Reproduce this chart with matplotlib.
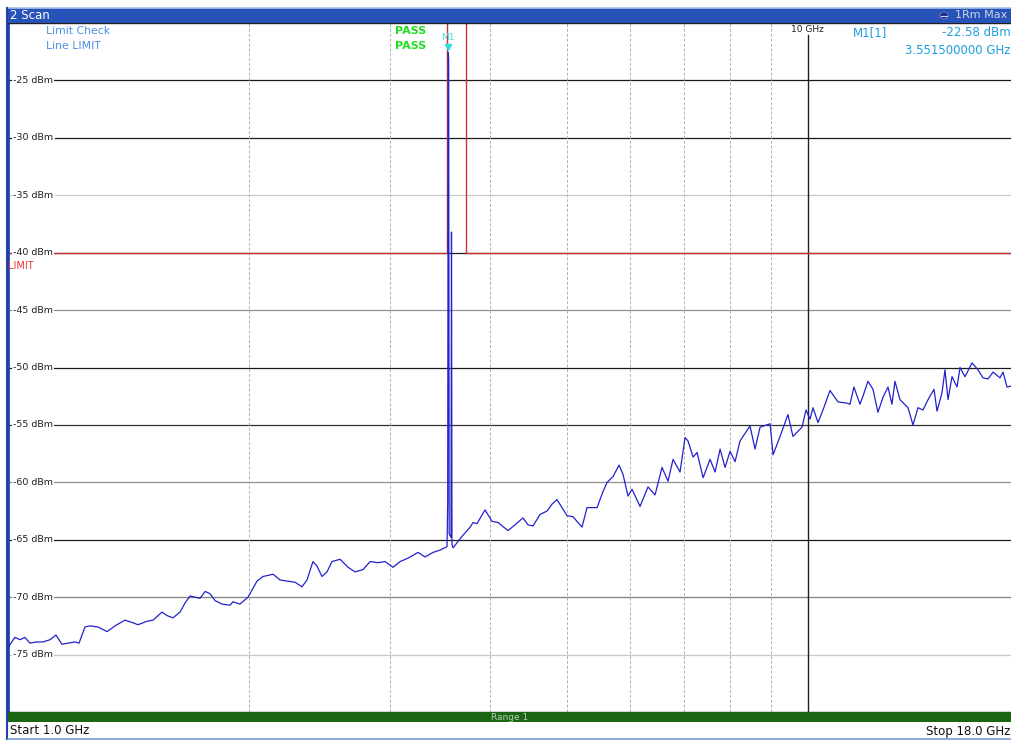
#!/usr/bin/env python3
"""Spectrum analyzer scan 1-18 GHz with limit line and marker M1."""

import matplotlib
matplotlib.use("Agg")
import matplotlib.pyplot as plt
import matplotlib.transforms as mtransforms
from matplotlib.patches import Rectangle, Ellipse
from matplotlib.lines import Line2D

plt.rcParams['font.family'] = ['DejaVu Sans']

# Trace (max hold), frequency in GHz and level in dBm
freq_ghz = [
    1.000, 1.020, 1.035, 1.050, 1.065, 1.087, 1.106, 1.129, 1.148, 1.168,
    1.189, 1.213, 1.227, 1.248, 1.266, 1.296, 1.330, 1.361, 1.400, 1.429,
    1.454, 1.492, 1.518, 1.558, 1.580, 1.608, 1.641, 1.665, 1.689, 1.738,
    1.764, 1.789, 1.815, 1.852, 1.895, 1.911, 1.950, 1.996, 2.048, 2.084,
    2.145, 2.188, 2.233, 2.285, 2.331, 2.365, 2.406, 2.434, 2.469, 2.505,
    2.541, 2.601, 2.662, 2.716, 2.779, 2.836, 2.902, 2.961, 3.030, 3.092,
    3.164, 3.256, 3.322, 3.400, 3.469, 3.539,
    3.546, 3.5515, 3.556, 3.561, 3.580, 3.585, 3.590, 3.601,
    3.696, 3.782, 3.815, 3.858, 3.948, 4.029, 4.099, 4.218, 4.304, 4.404,
    4.468, 4.533, 4.625, 4.720, 4.788, 4.857, 4.928, 4.999, 5.086, 5.220,
    5.296, 5.373, 5.451, 5.546, 5.610, 5.708, 5.807, 5.874, 5.959, 6.028,
    6.169, 6.312, 6.441, 6.572, 6.687, 6.784, 6.922, 7.022, 7.083, 7.187,
    7.270, 7.397, 7.547, 7.657, 7.768, 7.880, 7.994, 8.110, 8.227, 8.298,
    8.467, 8.590, 8.715, 8.970, 9.048, 9.232, 9.443, 9.581, 9.834, 9.948,
    10.063, 10.150, 10.297, 10.446, 10.659, 10.907, 11.193, 11.290, 11.420, 11.619,
    11.720, 11.890, 12.063, 12.237, 12.415, 12.595, 12.741, 12.851, 13.038, 13.342,
    13.536, 13.732, 13.932, 14.134, 14.380, 14.505, 14.715, 14.842, 14.971, 15.145,
    15.365, 15.498, 15.722, 16.042, 16.322, 16.559, 16.799, 17.043, 17.389, 17.540,
    17.744, 18.000,
]
level_dbm = [
    -74.4, -73.5, -73.7, -73.5, -74.0, -73.9, -73.9, -73.7, -73.3, -74.1,
    -74.0, -73.9, -74.0, -72.6, -72.5, -72.6, -73.0, -72.5, -72.0, -72.2,
    -72.4, -72.1, -72.0, -71.3, -71.6, -71.8, -71.3, -70.5, -69.9, -70.1,
    -69.5, -69.7, -70.3, -70.6, -70.7, -70.4, -70.6, -70.0, -68.6, -68.2,
    -68.0, -68.5, -68.6, -68.7, -69.1, -68.5, -66.9, -67.3, -68.2, -67.8,
    -66.9, -66.7, -67.4, -67.8, -67.6, -66.9, -67.0, -66.9, -67.4, -66.9,
    -66.6, -66.1, -66.5, -66.1, -65.9, -65.6,
    -61.8, -22.58, -23.2, -64.5, -64.8, -38.2, -65.4, -65.7,
    -64.7, -63.9, -63.5, -63.6, -62.4, -63.4, -63.5, -64.2, -63.7, -63.1,
    -63.7, -63.8, -62.8, -62.5, -61.9, -61.5, -62.2, -62.9, -63.0, -63.9,
    -62.2, -62.2, -62.2, -60.8, -60.0, -59.5, -58.5, -59.3, -61.2, -60.6,
    -62.1, -60.4, -61.1, -58.7, -59.9, -58.0, -59.1, -56.1, -56.4, -57.8,
    -57.4, -59.6, -58.0, -59.1, -57.1, -58.7, -57.3, -58.2, -56.4, -56.0,
    -55.1, -57.1, -55.2, -54.9, -57.6, -56.0, -54.1, -56.0, -55.2, -53.7,
    -54.5, -53.5, -54.8, -53.7, -52.0, -53.0, -53.1, -53.2, -51.7, -53.2,
    -52.5, -51.2, -51.9, -53.9, -52.6, -51.7, -53.2, -51.2, -52.8, -53.5,
    -55.0, -53.5, -53.7, -52.8, -51.9, -53.8, -52.2, -50.2, -52.8, -50.8,
    -51.7, -50.0, -50.8, -49.6, -50.2, -50.9, -51.0, -50.4, -50.9, -50.4,
    -51.7, -51.6,
]

# Limit line mask
limit_freq = [1.0, 3.536, 3.536, 3.735, 3.735, 18.0]
limit_dbm = [-40, -40, -10, -10, -40, -40]

# Marker
m1_freq = 3.5515
m1_level = -22.58

y_ticks = [-25, -30, -35, -40, -45, -50, -55, -60, -65, -70, -75]
grid_shades = ['#1a1a1a', '#1a1a1a', '#c8c8c8', '#1a1a1a', '#909090', '#1a1a1a',
               '#303030', '#909090', '#1a1a1a', '#808080', '#c8c8c8']
x_dashed = [2, 3, 4, 5, 6, 7, 8, 9]

W, H = 1012, 740
fig = plt.figure(figsize=(W / 100, H / 100), dpi=100)
fig.patch.set_facecolor('white')


def fx(px):
    return px / W


def fy(py):
    return 1 - py / H


ax = fig.add_axes([fx(8), fy(712), fx(1004), 689 / H])
ax.set_xscale('log')
ax.set_xlim(1, 18)
ax.set_ylim(-80, -20)
ax.set_xticks([])
ax.set_yticks([])
ax.minorticks_off()
for s in ax.spines.values():
    s.set_color('#202020')
    s.set_linewidth(1.0)
ax.spines['left'].set_color('#2244aa')
ax.spines['left'].set_linewidth(2.0)
ax.spines['right'].set_visible(False)

# grid
for lev, shade in zip(y_ticks, grid_shades):
    ax.axhline(lev, color=shade, lw=0.9, zorder=1)
    ax.text(0.005, lev, f"{lev} dBm", transform=ax.get_yaxis_transform(),
            ha='left', va='center', fontsize=6.8, color='#202020', zorder=3,
            bbox=dict(boxstyle='square,pad=0.15', fc='white', ec='none'))
for f in x_dashed:
    ax.axvline(f, color='#b0b0b0', lw=0.7, ls=(0, (3, 2)), zorder=1)

# 10 GHz display line
ax.axvline(10, ymax=0.982, color='#202020', lw=1.0, zorder=2)
ax.text(10, 0.99, "10 GHz", transform=ax.get_xaxis_transform(), ha='center',
        va='center', fontsize=6.5, color='#202020')

# limit line
ax.plot(limit_freq, limit_dbm, color='#cc3333', lw=1.0, zorder=2)
ax.text(0.0, -41.2, "LIMIT", transform=ax.get_yaxis_transform(), ha='left',
        va='center', fontsize=7, color='#ee3333', zorder=4)

# trace
ax.plot(freq_ghz, level_dbm, color='#2222cc', lw=0.9, zorder=5)

# marker M1, drawn just above the peak
marker_shift = mtransforms.ScaledTranslation(0, 4 / 72, fig.dpi_scale_trans)
ax.plot([m1_freq], [m1_level], marker='v', color='#33dddd', ms=5, zorder=6,
        linestyle='none', transform=ax.transData + marker_shift)
ax.annotate("M1", xy=(m1_freq, m1_level), xytext=(0, 11),
            textcoords='offset points', ha='center', va='center',
            fontsize=6.5, color='#44dddd', zorder=6)

# header texts inside the diagram
ax.text(fx(46), fy(31), "Limit Check", transform=fig.transFigure, fontsize=7.8,
        color='#4a8ee8', va='center')
ax.text(fx(46), fy(46), "Line LIMIT", transform=fig.transFigure, fontsize=7.8,
        color='#4a8ee8', va='center')
ax.text(fx(395), fy(31), "PASS", transform=fig.transFigure, fontsize=8,
        color='#22dd22', va='center', fontweight='bold')
ax.text(fx(395), fy(46), "PASS", transform=fig.transFigure, fontsize=8,
        color='#22dd22', va='center', fontweight='bold')
ax.text(fx(853), fy(33), "M1[1]", transform=fig.transFigure, fontsize=8.5,
        color='#1e9ee0', va='center')
ax.text(fx(1011), fy(33), "-22.58 dBm", transform=fig.transFigure, fontsize=8.5,
        color='#1e9ee0', va='center', ha='right')
ax.text(fx(1011), fy(51), "3.551500000 GHz", transform=fig.transFigure,
        fontsize=8.5, color='#1e9ee0', va='center', ha='right')

# title bar
fig.add_artist(Rectangle((fx(8), fy(23)), 1 - fx(8), 15 / H,
                         transform=fig.transFigure, fc='#2753b8', ec='none'))
fig.add_artist(Line2D([fx(8), 1], [fy(7.5), fy(7.5)], color='#a8c0ec', lw=1.2,
                      transform=fig.transFigure))
fig.text(fx(10), fy(15.5), "2 Scan", fontsize=8.5, color='white', va='center')
fig.text(fx(1007), fy(15.5), "1Rm Max", fontsize=8, color='#d0d4e8',
         va='center', ha='right')
fig.add_artist(Ellipse((fx(944), fy(15.5)), 8 / W, 7 / H, fc='#1a2a88',
                       ec='#8090d0', lw=0.5, transform=fig.transFigure))
fig.add_artist(Line2D([fx(941), fx(947)], [fy(15.5), fy(15.5)], color='#ccccff',
                      lw=0.8, transform=fig.transFigure))

# range bar
fig.add_artist(Rectangle((fx(8), fy(722)), 1 - fx(8), 10 / H,
                         transform=fig.transFigure, fc='#1b6612', ec='none'))
fig.text(fx(510), fy(717.5), "Range 1", fontsize=6.5, color='#b8ccb8',
         va='center', ha='center')

# footer
fig.text(fx(10), fy(731), "Start 1.0 GHz", fontsize=8.5, color='#101010',
         va='center')
fig.text(fx(1010), fy(731), "Stop 18.0 GHz", fontsize=8.5, color='#101010',
         va='center', ha='right')

# frame
fig.add_artist(Line2D([fx(7.5), fx(7.5)], [fy(8), fy(739)], color='#2244aa',
                      lw=1.5, transform=fig.transFigure))
fig.add_artist(Line2D([fx(8), 1], [fy(738.5), fy(738.5)], color='#7c9ad8',
                      lw=1.2, transform=fig.transFigure))

fig.savefig("out.png", dpi=100)
